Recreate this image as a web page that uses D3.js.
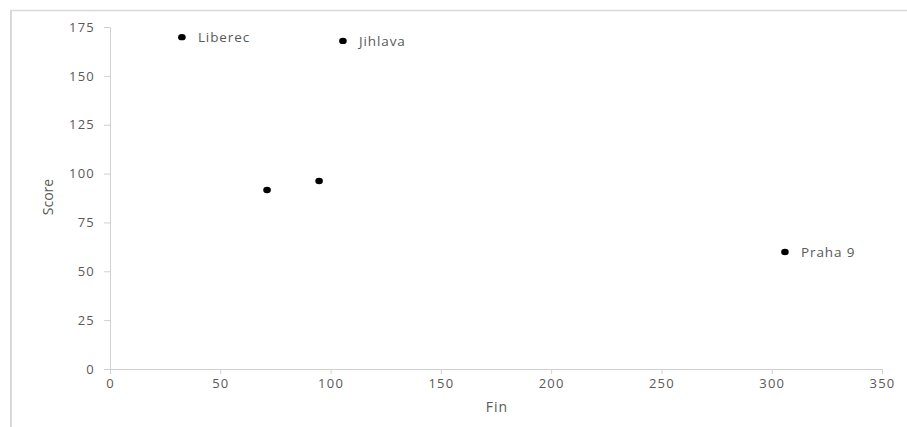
<!DOCTYPE html>
<html><head><meta charset="utf-8">
<script src="https://cdn.jsdelivr.net/npm/d3@7"></script>
<style>body{margin:0;background:#fff}svg{display:block}</style>
</head><body>
<script>
const names = ["Liberec", "Jihlava", "", "", "Praha 9"];
const finValues = [32.6, 105.6, 71.2, 94.8, 306];
const scoreValues = [169.8, 167.9, 91.6, 96.2, 59.9];
const xTicks = [0, 50, 100, 150, 200, 250, 300, 350];
const yTicks = [0, 25, 50, 75, 100, 125, 150, 175];

const W = 907, H = 427;
const svg = d3.select("body").append("svg").attr("width", W).attr("height", H);
svg.append("line").attr("x1", 10).attr("x2", W).attr("y1", 10.5).attr("y2", 10.5).attr("stroke", "#d9d9d9").attr("stroke-width", 1.5);
svg.append("line").attr("x1", 11).attr("x2", 11).attr("y1", 10).attr("y2", H).attr("stroke", "#d9d9d9").attr("stroke-width", 2);

const x = d3.scaleLinear().domain([0, 350]).range([110, 882]);
const y = d3.scaleLinear().domain([0, 175]).range([369, 27]);
const font = "'Open Sans', sans-serif";
const tc = "#595959";

const xa = svg.append("g").attr("transform", "translate(0,369)")
  .call(d3.axisBottom(x).tickValues(xTicks).tickSize(5).tickPadding(5).tickSizeOuter(0));
const ya = svg.append("g").attr("transform", "translate(110,0)")
  .call(d3.axisLeft(y).tickValues(yTicks).tickSize(6).tickPadding(10).tickSizeOuter(0));
[xa, ya].forEach(a => {
  a.select(".domain").attr("stroke", "#d0d0d0");
  a.selectAll(".tick line").attr("stroke", "#d0d0d0");
  a.selectAll(".tick text").attr("fill", tc).style("font-family", font).style("font-size", "13px").style("letter-spacing", "1.2px");
});
ya.selectAll(".tick text").attr("dx", "1px");

svg.append("text").attr("x", 497).attr("y", 412).attr("text-anchor", "middle")
  .attr("fill", tc).style("font-family", font).style("font-size", "14px").style("letter-spacing", "1px").text("Fin");
svg.append("text").attr("transform", "translate(53,197) rotate(-90)").attr("text-anchor", "middle")
  .attr("fill", tc).style("font-family", font).style("font-size", "14px").text("Score");

const data = names.map((n, i) => ({n, f: finValues[i], s: scoreValues[i]}));
svg.selectAll("ellipse.pt").data(data).join("ellipse").attr("class", "pt")
  .attr("cx", d => x(d.f)).attr("cy", d => y(d.s)).attr("rx", 3.8).attr("ry", 3.2).attr("fill", "#000");
svg.selectAll("text.lbl").data(data.filter(d => d.n)).join("text").attr("class", "lbl")
  .attr("x", d => x(d.f) + 16).attr("y", d => y(d.s) + 5)
  .attr("fill", tc).style("font-family", font).style("font-size", "13.5px").style("letter-spacing", "0.9px").text(d => d.n);
</script>
</body></html>
